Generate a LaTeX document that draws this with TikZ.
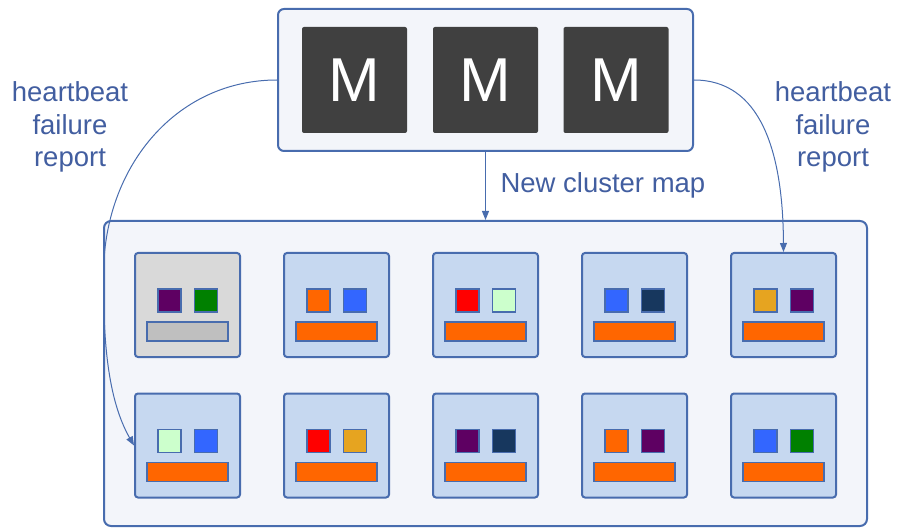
\documentclass[tikz,border=0pt]{standalone}
\usepackage{fontspec}
\setmainfont{Liberation Sans}
\usepackage{tikz}
\usetikzlibrary{arrows.meta}

\definecolor{edgeblue}{RGB}{72,108,174}
\definecolor{textblue}{RGB}{66,94,160}
\definecolor{panel}{RGB}{243,245,250}
\definecolor{mgrey}{RGB}{64,64,64}
\definecolor{osdfill}{RGB}{198,216,240}
\definecolor{downfill}{RGB}{217,217,217}
\definecolor{downbar}{RGB}{191,191,191}
\definecolor{cpurple}{RGB}{94,0,98}
\definecolor{cgreen}{RGB}{0,128,0}
\definecolor{corange}{RGB}{255,102,0}
\definecolor{cblue}{RGB}{51,102,255}
\definecolor{cred}{RGB}{255,0,0}
\definecolor{cmint}{RGB}{204,255,204}
\definecolor{cnavy}{RGB}{23,55,94}
\definecolor{cgold}{RGB}{230,164,32}

\begin{document}
\begin{tikzpicture}[x=1pt,y=-1pt,
  master/.style={draw=edgeblue,line width=2pt,fill=panel,rounded corners=6pt,minimum width=415pt,minimum height=142pt},
  mnode/.style={fill=mgrey,rounded corners=2pt,minimum width=105pt,minimum height=106pt,text=white,font=\fontsize{62}{62}\selectfont},
  cluster/.style={draw=edgeblue,line width=2pt,fill=panel,rounded corners=7pt,minimum width=763pt,minimum height=305pt},
  osd/.style={draw=edgeblue,line width=2pt,fill=osdfill,rounded corners=3pt,minimum width=105pt,minimum height=104pt},
  sq/.style={draw=edgeblue,line width=1.5pt,minimum size=23pt,inner sep=0pt},
  bar/.style={draw=edgeblue,line width=1.5pt,fill=corange,minimum width=81pt,minimum height=19pt,inner sep=0pt},
  note/.style={text=textblue,align=center,font=\fontsize{27.5}{32.5}\selectfont},
  link/.style={draw=edgeblue,line width=1pt,-{Triangle[length=9pt,width=7pt]}}]

\useasboundingbox (0,0) rectangle (897,529);

% monitors
\node[master] (mbox) at (485.5,80) {};
\node[mnode] (m1) at (354.5,80) {M};
\node[mnode] (m2) at (485.5,80) {M};
\node[mnode] (m3) at (616,80) {M};

% cluster
\node[cluster] (cl) at (485.5,373.5) {};

% first row
\node[osd,fill=downfill] (osd11) at (187.5,305) {};
\node[sq,fill=cpurple] (a11) at ([shift={(-18,-4.5)}]osd11) {};
\node[sq,fill=cgreen] (b11) at ([shift={(18.5,-4.5)}]osd11) {};
\node[bar,fill=downbar] (c11) at ([shift={(0,26.5)}]osd11) {};

\node[osd] (osd12) at (336.5,305) {};
\node[sq,fill=corange] (a12) at ([shift={(-18,-4.5)}]osd12) {};
\node[sq,fill=cblue] (b12) at ([shift={(18.5,-4.5)}]osd12) {};
\node[bar] (c12) at ([shift={(0,26.5)}]osd12) {};

\node[osd] (osd13) at (485.5,305) {};
\node[sq,fill=cred] (a13) at ([shift={(-18,-4.5)}]osd13) {};
\node[sq,fill=cmint] (b13) at ([shift={(18.5,-4.5)}]osd13) {};
\node[bar] (c13) at ([shift={(0,26.5)}]osd13) {};

\node[osd] (osd14) at (634.5,305) {};
\node[sq,fill=cblue] (a14) at ([shift={(-18,-4.5)}]osd14) {};
\node[sq,fill=cnavy] (b14) at ([shift={(18.5,-4.5)}]osd14) {};
\node[bar] (c14) at ([shift={(0,26.5)}]osd14) {};

\node[osd] (osd15) at (783.5,305) {};
\node[sq,fill=cgold] (a15) at ([shift={(-18,-4.5)}]osd15) {};
\node[sq,fill=cpurple] (b15) at ([shift={(18.5,-4.5)}]osd15) {};
\node[bar] (c15) at ([shift={(0,26.5)}]osd15) {};

% second row
\node[osd] (osd21) at (187.5,445.5) {};
\node[sq,fill=cmint] (a21) at ([shift={(-18,-4.5)}]osd21) {};
\node[sq,fill=cblue] (b21) at ([shift={(18.5,-4.5)}]osd21) {};
\node[bar] (c21) at ([shift={(0,26.5)}]osd21) {};

\node[osd] (osd22) at (336.5,445.5) {};
\node[sq,fill=cred] (a22) at ([shift={(-18,-4.5)}]osd22) {};
\node[sq,fill=cgold] (b22) at ([shift={(18.5,-4.5)}]osd22) {};
\node[bar] (c22) at ([shift={(0,26.5)}]osd22) {};

\node[osd] (osd23) at (485.5,445.5) {};
\node[sq,fill=cpurple] (a23) at ([shift={(-18,-4.5)}]osd23) {};
\node[sq,fill=cnavy] (b23) at ([shift={(18.5,-4.5)}]osd23) {};
\node[bar] (c23) at ([shift={(0,26.5)}]osd23) {};

\node[osd] (osd24) at (634.5,445.5) {};
\node[sq,fill=corange] (a24) at ([shift={(-18,-4.5)}]osd24) {};
\node[sq,fill=cpurple] (b24) at ([shift={(18.5,-4.5)}]osd24) {};
\node[bar] (c24) at ([shift={(0,26.5)}]osd24) {};

\node[osd] (osd25) at (783.5,445.5) {};
\node[sq,fill=cblue] (a25) at ([shift={(-18,-4.5)}]osd25) {};
\node[sq,fill=cgreen] (b25) at ([shift={(18.5,-4.5)}]osd25) {};
\node[bar] (c25) at ([shift={(0,26.5)}]osd25) {};

% labels
\node[note] (hbl) at (70,127) {heartbeat\\failure\\report};
\node[note] (hbr) at (833,127) {heartbeat\\failure\\report};
\node[note,anchor=west] (newmap) at (497,185) {New cluster map};

% arrows
\draw[link] (mbox.south) -- (cl.north);
\draw[link] (mbox.west) .. controls (180,80) and (110,160) .. (104,260) .. controls (102,340) and (108,400) .. (osd21.west);
\draw[link] (mbox.east) .. controls (760,80) and (783,150) .. (osd15.north);

\end{tikzpicture}
\end{document}
